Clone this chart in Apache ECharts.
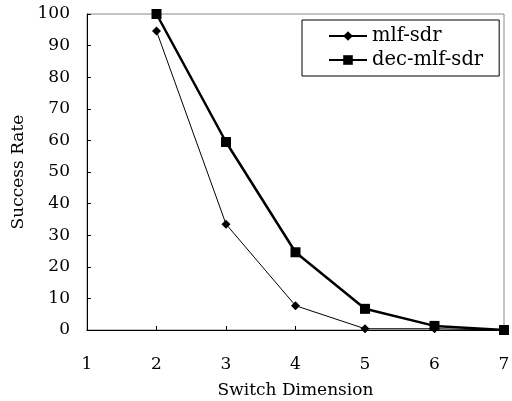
<!DOCTYPE html>
<html><head><meta charset="utf-8">
<script src="https://cdn.jsdelivr.net/npm/echarts@6/dist/echarts.min.js"></script>
<style>html,body{margin:0;padding:0;background:#fff}#c{width:512px;height:401px}</style>
</head><body><div id="c"></div>
<script>
var dims = [2, 3, 4, 5, 6, 7];
var mlfSdr = [94.6, 33.5, 7.7, 0.4, 0.4, 0];
var decMlfSdr = [100, 59.5, 24.6, 6.7, 1.3, 0];
var seriesNames = ['mlf-sdr', 'dec-mlf-sdr'];
var font = 'DejaVu Serif, Liberation Serif, serif';
function pairs(v){ return dims.map(function(d,i){ return [d, v[i]]; }); }
var chart = echarts.init(document.getElementById('c'));
chart.setOption({
  animation: false,
  backgroundColor: '#fff',
  grid: {left: 87, right: 8, top: 14, bottom: 71, show: true, borderColor: '#888', borderWidth: 1, outerBoundsMode: 'none', containLabel: false},
  legend: {
    left: 302, top: 20, orient: 'vertical',
    padding: [6, 16, 6, 26], itemGap: 4,
    borderColor: '#000', borderWidth: 1, backgroundColor: '#fff',
    itemWidth: 38, itemHeight: 12,
    textStyle: {fontFamily: font, fontSize: 19.5, color: '#000'},
    data: seriesNames
  },
  xAxis: {
    type: 'value', min: 1, max: 7, interval: 1,
    name: 'Switch Dimension', nameLocation: 'middle', nameGap: 52,
    nameTextStyle: {fontFamily: font, fontSize: 17, color: '#000'},
    axisLine: {lineStyle: {color: '#000', width: 1}},
    axisTick: {inside: true, length: 4, lineStyle: {color: '#000'}},
    axisLabel: {fontFamily: font, fontSize: 17, color: '#000', margin: 26},
    splitLine: {show: false}
  },
  yAxis: {
    type: 'value', min: 0, max: 100, interval: 10,
    name: 'Success Rate', nameLocation: 'middle', nameGap: 58,
    nameTextStyle: {fontFamily: font, fontSize: 17, color: '#000'},
    axisLine: {show: true, lineStyle: {color: '#000', width: 1}},
    axisTick: {show: true, inside: true, length: 4, lineStyle: {color: '#000'}},
    axisLabel: {fontFamily: font, fontSize: 17, color: '#000', margin: 17},
    splitLine: {show: false}
  },
  series: [
    {
      name: seriesNames[0], type: 'line', data: pairs(mlfSdr),
      symbol: 'diamond', symbolSize: 9,
      lineStyle: {color: '#000', width: 1},
      itemStyle: {color: '#000'}
    },
    {
      name: seriesNames[1], type: 'line', data: pairs(decMlfSdr),
      symbol: 'rect', symbolSize: 10,
      lineStyle: {color: '#000', width: 2.5},
      itemStyle: {color: '#000'}
    }
  ]
});
</script></body></html>
